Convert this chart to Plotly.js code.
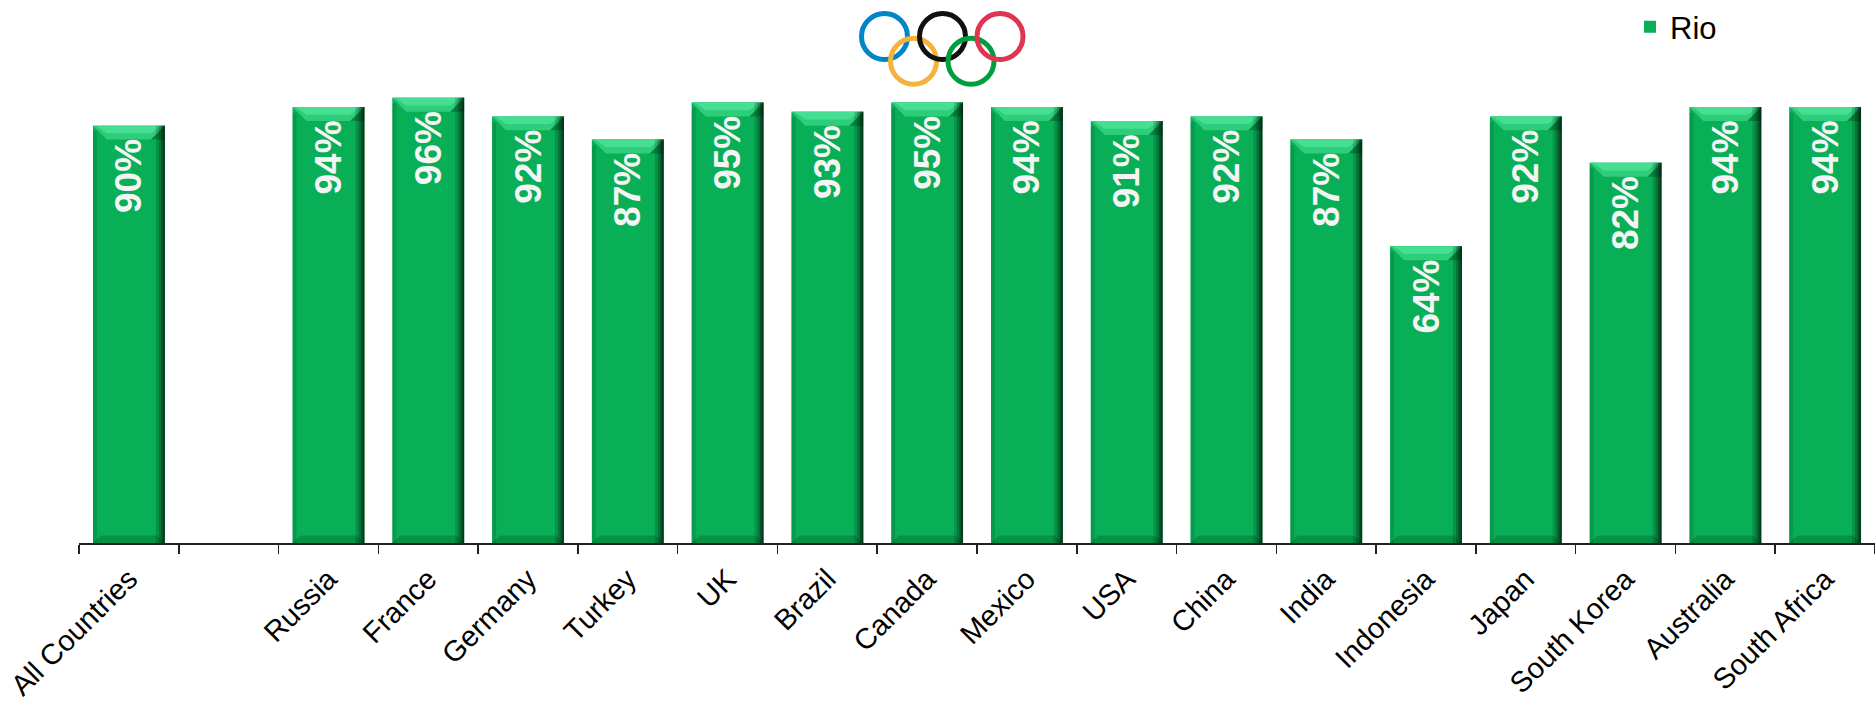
<!DOCTYPE html>
<html>
<head>
<meta charset="utf-8">
<script src="https://cdn.plot.ly/plotly-3.0.1.min.js"></script>
<style>html,body{margin:0;padding:0;background:#fff;}#chart{width:1875px;height:703px;}</style>
</head>
<body>
<div id="chart"></div>
<script>
// ---- data ----
const categories = ["All Countries", " ", "Russia", "France", "Germany", "Turkey", "UK", "Brazil", "Canada", "Mexico", "USA", "China", "India", "Indonesia", "Japan", "South Korea", "Australia", "South Africa"];
const rio = [90, null, 94, 96, 92, 87, 95, 93, 95, 94, 91, 92, 87, 64, 92, 82, 94, 94];
const seriesName = "Rio";

// ---- style ----
const barGreen = "#09AF57";
const halfW = 0.36;
const labels = rio.map(v => v == null ? "" : v + "%\u00a0");

const trace = {
  type: "bar",
  x: categories,
  y: rio,
  name: seriesName,
  marker: { color: barGreen, line: { width: 0 } },
  text: labels,
  textposition: "inside",
  insidetextanchor: "end",
  textangle: -90,
  textfont: { family: "Liberation Sans, Arial, sans-serif", size: 37, color: "#F4F4F4", weight: "bold" },
  constraintext: "none",
  cliponaxis: false,
  hoverinfo: "x+y"
};

// bevel decoration derived from the data values
const shapes = [];
rio.forEach((v, i) => {
  if (v == null) return;
  const l = i - halfW, r = i + halfW;
  const tdx = 0.14, tdy = 3.0, bdx = 0.08, bdy = 1.6;
  shapes.push({ type: "path", xref: "x", yref: "y", layer: "above", line: { width: 0 }, fillcolor: "#2DCD7A",
    path: `M${l},${v} L${r},${v} L${r - tdx},${v - tdy} L${l + tdx},${v - tdy} Z` });
  shapes.push({ type: "path", xref: "x", yref: "y", layer: "above", line: { width: 0 }, fillcolor: "#45DE92",
    path: `M${l + 0.03},${v} L${r - 0.03},${v} L${r - tdx},${v - tdy * 0.55} L${l + tdx},${v - tdy * 0.55} Z` });
  shapes.push({ type: "path", xref: "x", yref: "y", layer: "above", line: { width: 0 }, fillcolor: "rgba(0,60,25,0.35)",
    path: `M${r},${v} L${r},${v - tdy} L${r - tdx},${v - tdy} Z` });
  shapes.push({ type: "path", xref: "x", yref: "y", layer: "above", line: { width: 0 }, fillcolor: "rgba(0,70,30,0.28)",
    path: `M${l},0 L${r},0 L${r - bdx},${bdy} L${l + bdx},${bdy} Z` });
  shapes.push({ type: "rect", xref: "x", yref: "y", layer: "above", line: { width: 0 }, fillcolor: "rgba(0,60,25,0.18)",
    x0: l, x1: l + 0.04, y0: 0, y1: v - tdy * 0.4 });
  [[0.09, 0.18], [0.06, 0.25], [0.035, 0.35], [0.015, 0.45]].forEach(([w, a]) => {
    shapes.push({ type: "rect", xref: "x", yref: "y", layer: "above", line: { width: 0 }, fillcolor: `rgba(0,25,10,${a})`,
      x0: r - w, x1: r, y0: 0, y1: v });
  });
});

// Olympic rings (decorative logo)
const rings = [
  { cx: 884.5, cy: 31, c: "#0085C7" },
  { cx: 913.5, cy: 56, c: "#F4B33A" },
  { cx: 942.5, cy: 31, c: "#111111" },
  { cx: 971, cy: 56, c: "#009F3D" },
  { cx: 1000, cy: 31, c: "#DF3550" }
];
const PL = 79, PR = 1875, PT = 78, PB = 543;
rings.forEach(rg => {
  shapes.push({ type: "circle", xref: "paper", yref: "paper", xsizemode: "pixel", ysizemode: "pixel",
    xanchor: (rg.cx - PL) / (PR - PL), yanchor: (PB - rg.cy) / (PB - PT),
    x0: -23, x1: 23, y0: -23, y1: 23, line: { color: rg.c, width: 5 }, layer: "above" });
});

const layout = {
  width: 1875, height: 703,
  margin: { l: 79, r: 0, t: 78, b: 160, pad: 0 },
  paper_bgcolor: "#ffffff", plot_bgcolor: "#ffffff",
  bargap: 0.28,
  showlegend: true,
  legend: { x: (1630 - PL) / (PR - PL), xanchor: "left", y: 1.18, yanchor: "top",
    font: { family: "Liberation Sans, Arial, sans-serif", size: 31, color: "#000" },
    bgcolor: "rgba(0,0,0,0)", itemwidth: 30 },
  xaxis: {
    type: "category",
    range: [-0.5, 17.5],
    tickangle: -45,
    tickfont: { family: "Liberation Sans, Arial, sans-serif", size: 29, color: "#000" },
    ticks: "outside", tickson: "boundaries", ticklen: 9, tickwidth: 1.5, tickcolor: "#222",
    ticklabelstandoff: 6,
    showline: true, linecolor: "#222", linewidth: 1.5,
    showgrid: false, zeroline: false, automargin: false
  },
  yaxis: { range: [0, 99.2], visible: false, showgrid: false, zeroline: false, fixedrange: true },
  shapes: shapes
};

Plotly.newPlot("chart", [trace], layout, { displayModeBar: false, staticPlot: true });
</script>
</body>
</html>
